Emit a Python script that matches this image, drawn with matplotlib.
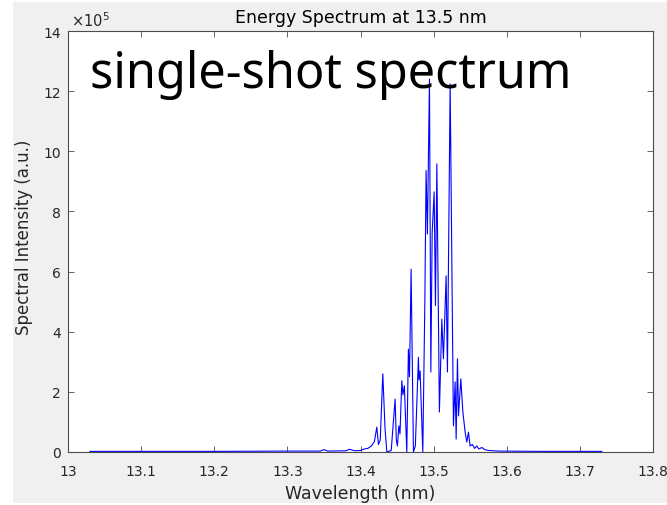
import matplotlib
matplotlib.use("Agg")
import matplotlib.pyplot as plt
from matplotlib.patches import Rectangle

wavelength = [13.030, 13.100, 13.200, 13.300, 13.345, 13.350, 13.355, 13.380, 13.385, 13.392,
              13.400, 13.405, 13.410, 13.415, 13.4190, 13.4223, 13.4245, 13.4270, 13.4305, 13.4335,
              13.4360, 13.4420, 13.4473, 13.4490, 13.4505, 13.4524, 13.4540, 13.4565, 13.4580, 13.4600,
              13.4633, 13.4655, 13.4670, 13.4692, 13.4724, 13.4750, 13.4792, 13.4800, 13.4815, 13.4852,
              13.4880, 13.4897, 13.4915, 13.4943, 13.4962, 13.4980, 13.5007, 13.5025, 13.5044, 13.5079,
              13.5112, 13.5134, 13.5171, 13.5189, 13.5226, 13.5253, 13.5271, 13.5294, 13.5308, 13.5326,
              13.5340, 13.5372, 13.5400, 13.5431, 13.5454, 13.5476, 13.5499, 13.553, 13.556, 13.559,
              13.562, 13.566, 13.570, 13.575, 13.590, 13.650, 13.730]
intensity = [0.02, 0.02, 0.02, 0.03, 0.03, 0.08, 0.03, 0.04, 0.09, 0.04,
             0.05, 0.10, 0.12, 0.20, 0.35, 0.83, 0.25, 0.40, 2.60, 0.80,
             0.00, 0.05, 1.76, 0.40, 0.20, 0.87, 0.60, 2.37, 1.90, 2.20,
             0.00, 3.42, 2.50, 6.08, 0.00, 0.20, 3.15, 2.40, 2.70, 0.00,
             5.00, 9.36, 7.25, 12.40, 2.66, 7.30, 8.65, 4.87, 9.58, 1.33,
             4.42, 3.10, 5.86, 2.66, 12.24, 5.30, 0.87, 2.33, 0.43, 3.10,
             1.20, 2.43, 1.33, 0.66, 0.33, 0.66, 0.20, 0.25, 0.12, 0.20,
             0.10, 0.15, 0.08, 0.05, 0.03, 0.02, 0.02]
intensity = [v * 1e5 for v in intensity]

xticks = [13, 13.1, 13.2, 13.3, 13.4, 13.5, 13.6, 13.7, 13.8]
xticklabels = ["13", "13.1", "13.2", "13.3", "13.4", "13.5", "13.6", "13.7", "13.8"]
yticks = [0, 2e5, 4e5, 6e5, 8e5, 10e5, 12e5, 14e5]
yticklabels = ["0", "2", "4", "6", "8", "10", "12", "14"]

W, H = 667, 506
AX_L, AX_R, AX_T, AX_B = 68, 653, 32, 453
fig = plt.figure(figsize=(W / 100, H / 100), dpi=100, facecolor="white")
fig.patches.append(Rectangle((13 / W, 2 / H), 1 - 13 / W, (504 - 3) / H,
                             transform=fig.transFigure, facecolor="#f0f0f0",
                             edgecolor="none", zorder=-10))

ax = fig.add_axes([AX_L / W, 1 - AX_B / H, (AX_R - AX_L) / W, (AX_B - AX_T) / H])
ax.set_facecolor("white")
ax.plot(wavelength, intensity, color="#0000ff", lw=0.8)
ax.set_xlim(13, 13.8)
ax.set_ylim(0, 14e5)
ax.set_xticks(xticks)
ax.set_xticklabels(xticklabels)
ax.set_yticks(yticks)
ax.set_yticklabels(yticklabels)

tc = "#262626"
fam = "DejaVu Sans"
for s in ax.spines.values():
    s.set_color("#4d4d4d")
    s.set_linewidth(0.8)
ax.tick_params(direction="in", length=4, width=0.6, color="#4d4d4d",
               top=True, right=True, labelsize=10, labelcolor=tc)
ax.tick_params(axis="x", pad=9)
ax.tick_params(axis="y", pad=5)
for lab in ax.get_xticklabels() + ax.get_yticklabels():
    lab.set_family(fam)

ax.set_xlabel("Wavelength (nm)", fontsize=12.5, color=tc, family=fam, va="center")
ax.xaxis.set_label_coords(0.5, (AX_B - 494) / (AX_B - AX_T))
ax.set_ylabel("Spectral Intensity (a.u.)", fontsize=12, color=tc, family=fam, va="center")
ax.yaxis.set_label_coords((24 - AX_L) / (AX_R - AX_L), (AX_B - 237) / (AX_B - AX_T))
ax.set_title("Energy Spectrum at 13.5 nm", fontsize=12.5, color="black", family=fam,
             y=(AX_B - 18) / (AX_B - AX_T), va="center", pad=0)
ax.text(0.005, 1.005, r"$\times10^{5}$", transform=ax.transAxes, fontsize=10.5, color=tc,
        ha="left", va="bottom", family=fam)

fig.text(90 / W, 1 - 88 / H, "single-shot spectrum", fontsize=35, color="black",
         family="Noto Sans", ha="left", va="baseline", zorder=10)

fig.savefig("out.png", dpi=100, facecolor=fig.get_facecolor())
